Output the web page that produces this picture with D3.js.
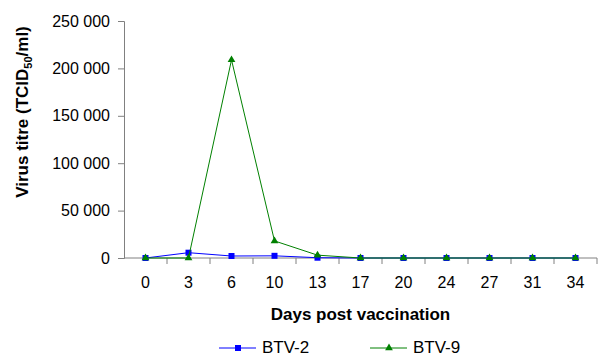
<!DOCTYPE html>
<html>
<head>
<meta charset="utf-8">
<script src="https://cdn.jsdelivr.net/npm/d3@7"></script>
<style>
  body { margin: 0; background: #fff; }
  text { font-family: "Liberation Sans", Arial, sans-serif; fill: #000; }
</style>
</head>
<body>
<div id="chart"></div>
<script>
const days = ['0', '3', '6', '10', '13', '17', '20', '24', '27', '31', '34'];
const btv2 = [0, 5600, 2100, 2300, 300, 0, 0, 0, 0, 0, 0];
const btv9 = [0, 0, 209000, 18000, 3000, 0, 0, 0, 0, 0, 0];
const yTicks = [0, 50000, 100000, 150000, 200000, 250000];

const width = 602, height = 356;
const plot = { left: 124, right: 597, top: 21, bottom: 258 };

const svg = d3.select('#chart').append('svg')
  .attr('width', width)
  .attr('height', height);

const x = d3.scaleBand().domain(days).range([plot.left, plot.right]);
const y = d3.scaleLinear().domain([0, 250000]).range([plot.bottom, plot.top]);

const fmt = v => d3.format(',')(v).replace(/,/g, ' ');

// y axis
const yAxis = svg.append('g')
  .attr('transform', `translate(${plot.left},0)`)
  .call(d3.axisLeft(y).tickValues(yTicks).tickFormat(fmt).tickSize(6).tickPadding(8));
yAxis.selectAll('text').style('font-size', '16px');
yAxis.select('.domain').attr('stroke', '#808080');
yAxis.selectAll('.tick line').attr('stroke', '#808080');

// x axis: ticks sit between categories
const xAxis = svg.append('g')
  .attr('transform', `translate(0,${y(0)})`);
xAxis.append('line')
  .attr('x1', plot.left).attr('x2', plot.right)
  .attr('stroke', '#808080');
xAxis.selectAll('.tk').data(days)
  .join('line')
  .attr('class', 'tk')
  .attr('x1', d => x(d) + x.bandwidth())
  .attr('x2', d => x(d) + x.bandwidth())
  .attr('y1', 0).attr('y2', 6)
  .attr('stroke', '#808080');
xAxis.selectAll('.lbl').data(days)
  .join('text')
  .attr('class', 'lbl')
  .attr('x', d => x(d) + x.bandwidth() / 2)
  .attr('y', 30)
  .attr('text-anchor', 'middle')
  .style('font-size', '16px')
  .text(d => d);

// axis titles
svg.append('text')
  .attr('x', (plot.left + plot.right) / 2)
  .attr('y', 320)
  .attr('text-anchor', 'middle')
  .style('font-size', '17px')
  .style('font-weight', 'bold')
  .text('Days post vaccination');

const yt = svg.append('text')
  .attr('transform', 'translate(28,112) rotate(-90)')
  .attr('text-anchor', 'middle')
  .style('font-size', '17px')
  .style('font-weight', 'bold');
yt.append('tspan').text('Virus titre (TCID');
yt.append('tspan').attr('dy', 4).style('font-size', '11px').text('50');
yt.append('tspan').attr('dy', -4).text('/ml)');

const cx = i => x(days[i]) + x.bandwidth() / 2;
const line = d3.line().x((d, i) => cx(i)).y(d => y(d));

const series = [
  { name: 'BTV-2', values: btv2, color: '#0000ff', symbol: d3.symbolSquare, size: 36 },
  { name: 'BTV-9', values: btv9, color: '#008000', symbol: d3.symbolTriangle, size: 26 }
];

series.forEach(s => {
  svg.append('path')
    .attr('d', line(s.values))
    .attr('fill', 'none')
    .attr('stroke', s.color)
    .attr('stroke-width', 1);
  svg.append('g').selectAll('path').data(s.values)
    .join('path')
    .attr('transform', (d, i) => `translate(${cx(i)},${y(d)})`)
    .attr('d', d3.symbol().type(s.symbol).size(s.size))
    .attr('fill', s.color);
});

// legend
const legendX = [219, 370];
series.forEach((s, i) => {
  const g = svg.append('g').attr('transform', `translate(${legendX[i]},348)`);
  g.append('line').attr('x1', 0).attr('x2', 37)
    .attr('stroke', s.color);
  g.append('path')
    .attr('transform', 'translate(19,0)')
    .attr('d', d3.symbol().type(s.symbol).size(s.size))
    .attr('fill', s.color);
  g.append('text')
    .attr('x', 43).attr('y', 5)
    .style('font-size', '17px')
    .text(s.name);
});
</script>
</body>
</html>
